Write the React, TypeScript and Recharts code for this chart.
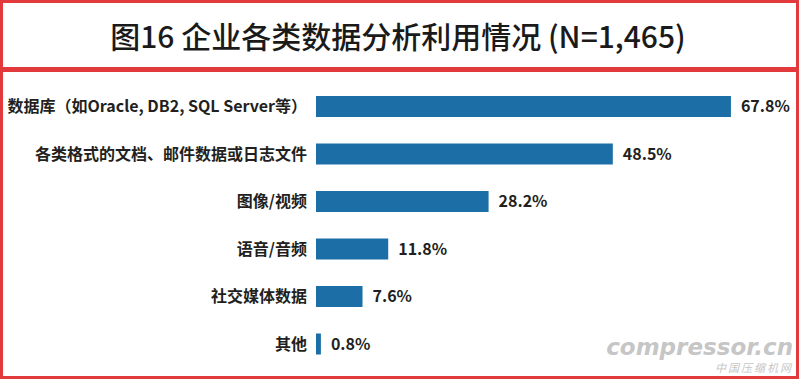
import { Bar, BarChart, LabelList, XAxis, YAxis } from 'recharts'

const categories = [
  '数据库（如Oracle, DB2, SQL Server等）',
  '各类格式的文档、邮件数据或日志文件',
  '图像/视频',
  '语音/音频',
  '社交媒体数据',
  '其他',
]
const shares = [67.8, 48.5, 28.2, 11.8, 7.6, 0.8]
const title = '图16 企业各类数据分析利用情况 (N=1,465)'

const data = categories.map((name, i) => ({ name, value: shares[i] }))

const red = '#e23a3c'
const font = '"Noto Sans CJK SC", "Noto Sans", sans-serif'

export default function App() {
  return (
    <div style={{ position: 'fixed', left: 0, top: 0, width: 799, height: 380, background: '#fff', fontFamily: font }}>
      <div style={{ position: 'absolute', left: 0, top: 0, width: 799, height: 70, boxSizing: 'border-box', border: `3px solid ${red}` }} />
      <div style={{ position: 'absolute', left: 0, top: 69, width: 799, height: 310, boxSizing: 'border-box', border: `3px solid ${red}` }} />
      <div
        style={{
          position: 'absolute', left: 0, top: 0, width: 796, height: 70, display: 'flex',
          alignItems: 'center', justifyContent: 'center', fontSize: 30, fontWeight: 500, color: '#1a1a1a',
        }}
      >
        {title}
      </div>
      <div style={{ position: 'absolute', left: 0, top: 0 }}>
        <BarChart width={799} height={380} data={data} layout="vertical" margin={{ top: 83, right: 24, bottom: 12, left: 0 }}>
          <XAxis type="number" domain={[0, 75]} hide />
          <YAxis
            type="category"
            dataKey="name"
            width={316}
            axisLine={false}
            tickLine={false}
            tickSize={0}
            tickMargin={9}
            tick={{ fill: '#231f20', fontSize: 16, fontWeight: 700, fontFamily: font }}
          />
          <Bar dataKey="value" fill="#1c6fa6" barSize={21} isAnimationActive={false}>
            <LabelList
              dataKey="value"
              position="right"
              offset={10}
              formatter={(v: number) => `${v}%`}
              style={{ fill: '#231f20', fontSize: 16, fontWeight: 700, fontFamily: font }}
            />
          </Bar>
        </BarChart>
      </div>
      <div style={{ position: 'absolute', right: 6, top: 334, textAlign: 'right', color: '#c6c6c6', whiteSpace: 'nowrap' }}>
        <div style={{ fontSize: 23, lineHeight: '27px', fontWeight: 700, fontStyle: 'italic', fontFamily: '"DejaVu Sans", sans-serif' }}>compressor.cn</div>
        <div style={{ fontSize: 11, lineHeight: '13px', fontStyle: 'italic', letterSpacing: 2 }}>中国压缩机网</div>
      </div>
    </div>
  )
}
